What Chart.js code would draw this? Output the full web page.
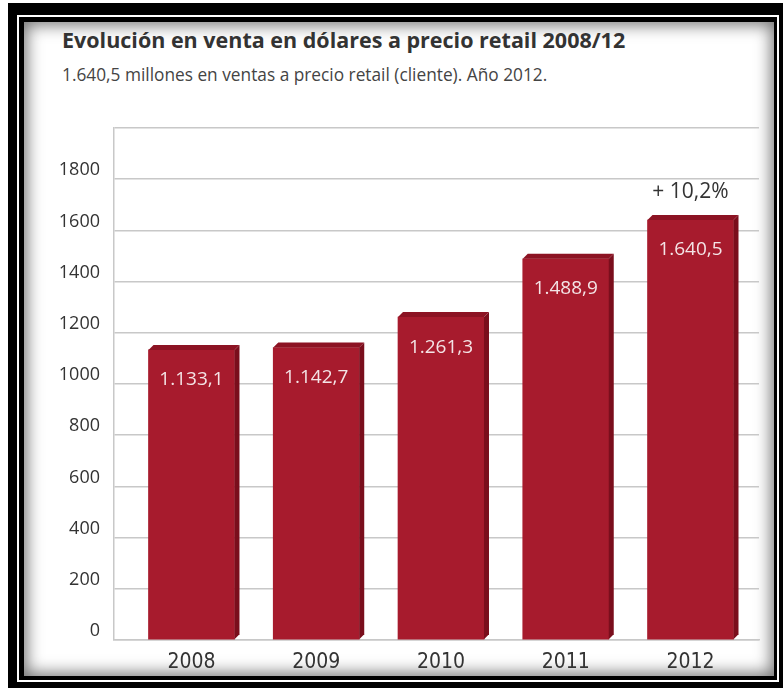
<!DOCTYPE html>
<html>
<head>
<meta charset="utf-8">
<script src="https://cdn.jsdelivr.net/npm/chart.js@4.4.0/dist/chart.umd.min.js"></script>
<style>
  body { margin: 0; width: 783px; height: 688px; overflow: hidden; position: relative; background: #fff; font-family: "Open Sans", sans-serif; }
  #outer { position: absolute; left: 8px; top: 3px; right: 0; bottom: 0; background: #000; }
  #line { position: absolute; left: 17px; top: 15px; width: 762px; height: 667px; box-sizing: border-box; border: 2px solid #fff; }
  #panel { position: absolute; left: 24px; top: 22px; width: 750px; height: 654px; background: #fff; box-shadow: inset 0 0 16px 3px rgba(0,0,0,0.55); }
  #title { position: absolute; left: 62px; top: 25px; font-size: 21.5px; font-weight: bold; color: #333; white-space: nowrap; line-height: 30px; }
  #subtitle { position: absolute; left: 62px; top: 63px; font-size: 17.3px; color: #444; white-space: nowrap; line-height: 24px; }
  canvas { position: absolute; left: 0; top: 0; }
</style>
</head>
<body>
<div id="outer"></div>
<div id="line"></div>
<div id="panel"></div>
<div id="title">Evolución en venta en dólares a precio retail 2008/12</div>
<div id="subtitle">1.640,5 millones en ventas a precio retail (cliente). Año 2012.</div>
<canvas id="chart" width="783" height="688"></canvas>
<script>
const years = [2008, 2009, 2010, 2011, 2012];
const sales = [1133.1, 1142.7, 1261.3, 1488.9, 1640.5];
const yTicks = [0, 200, 400, 600, 800, 1000, 1200, 1400, 1600, 1800];
const growthNote = '+ 10,2%';

const frontColor = '#a71b2d';
const topColor = '#8c1323';
const sideColor = '#7a0e1c';
const depth = 5;

// 1133.1 -> "1.133,1"
function fmt(v) {
  const parts = v.toFixed(1).split('.');
  return parts[0].replace(/\B(?=(\d{3})+(?!\d))/g, '.') + ',' + parts[1];
}

const bar3d = {
  id: 'bar3d',
  afterDatasetsDraw(chart) {
    const ctx = chart.ctx;
    const meta = chart.getDatasetMeta(0);
    ctx.save();
    meta.data.forEach((bar, i) => {
      const p = bar.getProps(['x', 'y', 'base', 'width'], true);
      const l = p.x - p.width / 2, r = p.x + p.width / 2;
      // side
      ctx.fillStyle = sideColor;
      ctx.beginPath();
      ctx.moveTo(r, p.y);
      ctx.lineTo(r + depth, p.y - depth);
      ctx.lineTo(r + depth, p.base - depth);
      ctx.lineTo(r, p.base);
      ctx.closePath();
      ctx.fill();
      // top
      ctx.fillStyle = topColor;
      ctx.beginPath();
      ctx.moveTo(l, p.y);
      ctx.lineTo(l + depth, p.y - depth);
      ctx.lineTo(r + depth, p.y - depth);
      ctx.lineTo(r, p.y);
      ctx.closePath();
      ctx.fill();
      // value
      ctx.textAlign = 'center';
      ctx.textBaseline = 'middle';
      ctx.fillStyle = '#f4e4e6';
      ctx.font = '19px "Open Sans", sans-serif';
      ctx.fillText(fmt(sales[i]), p.x, p.y + 30);
      if (i === sales.length - 1) {
        ctx.fillStyle = '#333';
        ctx.font = '21px "Open Sans", sans-serif';
        ctx.fillText(growthNote, p.x, p.y - 28);
      }
    });
    ctx.restore();
  }
};

new Chart(document.getElementById('chart'), {
  type: 'bar',
  data: {
    datasets: [{
      data: years.map((yr, i) => ({ x: yr, y: sales[i] })),
      backgroundColor: frontColor,
      barThickness: 86,
      borderWidth: 0
    }]
  },
  options: {
    responsive: false,
    animation: false,
    layout: { padding: { left: 40, top: 128, right: 24, bottom: 0 } },
    plugins: { legend: { display: false }, tooltip: { enabled: false } },
    scales: {
      x: {
        type: 'linear',
        offset: false,
        min: 2007.379,
        max: 2012.549,
        afterFit(scale) { scale.height = 48; },
        afterBuildTicks(scale) { scale.ticks = years.map(v => ({ value: v })); },
        grid: { display: false },
        border: { display: true, color: '#c8c8c8', width: 1.5 },
        ticks: {
          padding: 2,
          color: '#333',
          font: { family: '"Liberation Sans Narrow", "DejaVu Sans Condensed", sans-serif', size: 21 },
          callback: v => String(v)
        }
      },
      y: {
        min: 0,
        max: 2000,
        afterFit(scale) { scale.width = 74; },
        afterBuildTicks(scale) { scale.ticks = yTicks.concat([2000]).map(v => ({ value: v })); },
        grid: { color: '#c8c8c8', lineWidth: 1.5, drawTicks: false },
        border: { display: true, color: '#c8c8c8', width: 1.5 },
        ticks: {
          padding: 14,
          labelOffset: -9,
          color: '#333',
          font: { family: 'Open Sans', size: 18 },
          callback: v => (yTicks.includes(v) ? String(v) : '')
        }
      }
    }
  },
  plugins: [bar3d]
});
</script>
</body>
</html>
